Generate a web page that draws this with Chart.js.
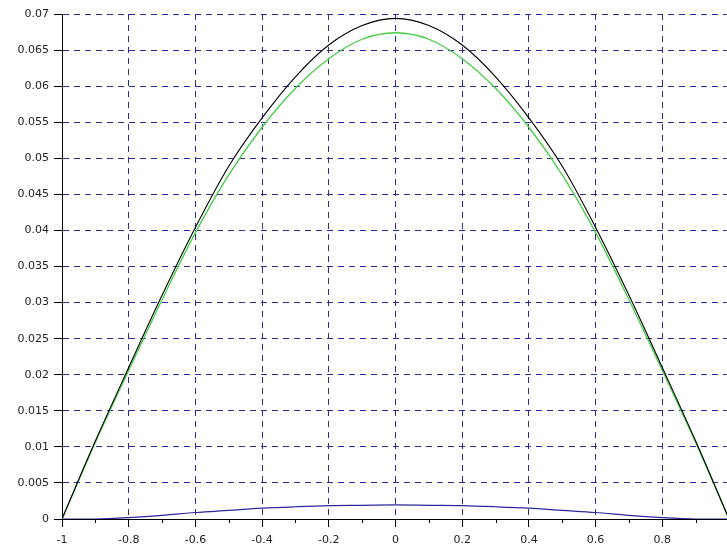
<!DOCTYPE html>
<html>
<head>
<meta charset="utf-8">
<script src="https://cdn.jsdelivr.net/npm/chart.js@4/dist/chart.umd.min.js"></script>
<style>
  html, body { margin: 0; padding: 0; background: #ffffff; overflow: hidden; }
  #wrap { width: 727px; height: 546px; overflow: hidden; position: relative; }
  canvas { position: absolute; left: 0; top: 0; }
</style>
</head>
<body>
<div id="wrap"><canvas id="c" width="729" height="546"></canvas></div>
<script>
// ---- data ----
const xs        = [-1, -0.9, -0.8, -0.7, -0.6, -0.5, -0.4, -0.3, -0.2, -0.1, 0, 0.1, 0.2, 0.3, 0.4, 0.5, 0.6, 0.7, 0.8, 0.9, 1];
const blackVals = [0, 0.0108, 0.0210, 0.0310, 0.0404, 0.0489, 0.0556, 0.0613, 0.0657, 0.0684, 0.0694, 0.0684, 0.0657, 0.0613, 0.0556, 0.0489, 0.0404, 0.0310, 0.0210, 0.0108, 0];
const greenVals = [0, 0.0106, 0.0206, 0.0304, 0.0397, 0.0477, 0.0543, 0.0597, 0.0638, 0.0665, 0.0674, 0.0665, 0.0638, 0.0597, 0.0543, 0.0477, 0.0397, 0.0304, 0.0206, 0.0106, 0];
const blueVals  = [0, 0.0000, 0.0002, 0.0005, 0.0009, 0.0012, 0.0015, 0.0017, 0.00185, 0.0019, 0.00195, 0.0019, 0.00185, 0.0017, 0.0015, 0.0012, 0.0009, 0.0005, 0.0002, 0.0000, 0];
const xTickValues = [-1, -0.8, -0.6, -0.4, -0.2, 0, 0.2, 0.4, 0.6, 0.8];
const xTickLabels = ['-1', '-0.8', '-0.6', '-0.4', '-0.2', '0', '0.2', '0.4', '0.6', '0.8'];
const xMinorTicks = [-0.9, -0.7, -0.5, -0.3, -0.1, 0.1, 0.3, 0.5, 0.7, 0.9];
const yTickValues = [0, 0.005, 0.01, 0.015, 0.02, 0.025, 0.03, 0.035, 0.04, 0.045, 0.05, 0.055, 0.06, 0.065, 0.07];
const yTickLabels = ['0', '0.005', '0.01', '0.015', '0.02', '0.025', '0.03', '0.035', '0.04', '0.045', '0.05', '0.055', '0.06', '0.065', '0.07'];

const toPts = vals => xs.map((x, i) => ({ x: x, y: vals[i] }));

const gridColor = '#2c2c96';
const font = { family: 'DejaVu Sans', size: 11 };

const minorTicksPlugin = {
  id: 'minorTicks',
  afterDraw(chart) {
    const sx = chart.scales.x, ctx = chart.ctx;
    const y0 = chart.chartArea.bottom;
    ctx.save();
    ctx.strokeStyle = '#000';
    ctx.lineWidth = 1;
    ctx.beginPath();
    xMinorTicks.forEach(v => {
      const px = Math.round(sx.getPixelForValue(v)) + 0.5;
      ctx.moveTo(px, y0);
      ctx.lineTo(px, y0 + 4);
    });
    ctx.stroke();
    ctx.restore();
  }
};

new Chart(document.getElementById('c'), {
  type: 'line',
  data: {
    datasets: [
      { data: toPts(blueVals),  borderColor: '#2a2a9c', borderWidth: 1.2, pointRadius: 0, tension: 0.35, fill: false },
      { data: toPts(blackVals), borderColor: '#000000', borderWidth: 1.1, pointRadius: 0, tension: 0.35, fill: false },
      { data: toPts(greenVals), borderColor: '#44cc44', borderWidth: 1.3, pointRadius: 0, tension: 0.35, fill: false }
    ]
  },
  options: {
    responsive: false,
    animation: false,
    devicePixelRatio: 1,
    layout: { padding: { top: 14, right: 0, left: 0, bottom: 0 } },
    plugins: { legend: { display: false }, tooltip: { enabled: false } },
    scales: {
      x: {
        type: 'linear', min: -1, max: 1,
        afterBuildTicks: s => { s.ticks = xTickValues.map(v => ({ value: v })); },
        afterFit: s => { s.height = 27; },
        ticks: {
          autoSkip: false, maxRotation: 0, padding: 7, color: '#222', font: font,
          callback: (v) => { const i = xTickValues.indexOf(v); return i >= 0 ? xTickLabels[i] : ''; }
        },
        grid: { color: gridColor, lineWidth: 1, tickColor: '#000', tickLength: 8, drawTicks: true },
        border: { color: '#000', width: 1, dash: [6, 5] }
      },
      y: {
        type: 'linear', min: 0, max: 0.07,
        afterBuildTicks: s => { s.ticks = yTickValues.map(v => ({ value: v })); },
        afterFit: s => { s.width = 62; },
        ticks: {
          autoSkip: false, padding: 5, color: '#222', font: font,
          callback: (v) => { const i = yTickValues.indexOf(v); return i >= 0 ? yTickLabels[i] : ''; }
        },
        grid: { color: gridColor, lineWidth: 1, tickColor: '#000', tickLength: 8, drawTicks: true },
        border: { color: '#000', width: 1, dash: [6, 5] }
      }
    }
  },
  plugins: [minorTicksPlugin]
});
</script>
</body>
</html>
